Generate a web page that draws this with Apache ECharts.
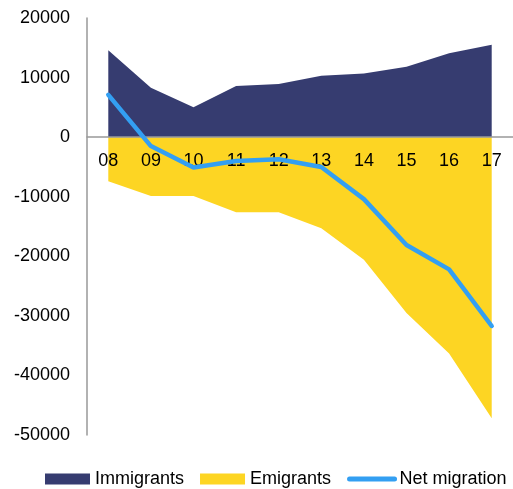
<!DOCTYPE html>
<html>
<head>
    <meta charset="UTF-8">
    <title>migration</title>
    <script src="https://cdn.jsdelivr.net/npm/echarts@6/dist/echarts.min.js"></script>
    <style>
        *{margin:0;padding:0}
        html, body{width:100%;height:100%;background:#fff}
        #main{width:513px;height:489px}
    </style>
</head>
<body>
    <div id="main"></div>
    <script type="text/javascript">
        var years = ['08', '09', '10', '11', '12', '13', '14', '15', '16', '17'];
        var immigrants = [14600, 8300, 5000, 8600, 8900, 10300, 10700, 11800, 14100, 15500];
        var emigrants = [-7400, -9900, -9900, -12600, -12600, -15300, -20600, -29500, -36300, -47200];
        var netMigration = [7100, -1500, -5100, -4000, -3700, -5000, -10400, -18100, -22200, -31700];

        var myChart = echarts.init(document.getElementById('main'));
        var font = 'Liberation Sans, Arial, sans-serif';
        // grid: top 18, height 417 -> zero line sits 2/7 of the way down
        var zeroOffset = -417 * 5 / 7;

        var option = {
            animation: false,
            grid: {left: 87, right: -8, top: 18, bottom: 54},
            legend: {
                top: 470,
                left: 45,
                width: 600,
                padding: 0,
                itemWidth: 45,
                itemHeight: 11,
                itemGap: 16,
                textStyle: {fontFamily: font, fontSize: 18, color: '#000'},
                data: [
                    {name: 'Immigrants', icon: 'rect'},
                    {name: 'Emigrants', icon: 'rect'},
                    {name: 'Net migration', itemStyle: {opacity: 0}, lineStyle: {width: 5, cap: 'round'}}
                ]
            },
            xAxis: {
                type: 'category',
                data: years,
                boundaryGap: true,
                position: 'bottom',
                offset: zeroOffset,
                z: 3,
                axisLine: {onZero: false, lineStyle: {color: '#999', width: 1.5}},
                axisTick: {show: false},
                axisLabel: {fontFamily: font, fontSize: 18, color: '#000', margin: 15},
                splitLine: {show: false}
            },
            yAxis: {
                type: 'value',
                min: -50000,
                max: 20000,
                interval: 10000,
                axisLine: {show: true, lineStyle: {color: '#999', width: 1.5}},
                axisTick: {show: false},
                axisLabel: {
                    fontFamily: font, fontSize: 18, color: '#000', margin: 17,
                    formatter: function (v) { return String(v); }
                },
                splitLine: {show: false}
            },
            series: [
                {
                    name: 'Immigrants',
                    type: 'line',
                    data: immigrants,
                    symbol: 'none',
                    lineStyle: {width: 0},
                    itemStyle: {color: '#363c70'},
                    areaStyle: {color: '#363c70', opacity: 1}
                },
                {
                    name: 'Emigrants',
                    type: 'line',
                    data: emigrants,
                    symbol: 'none',
                    lineStyle: {width: 0},
                    itemStyle: {color: '#fdd523'},
                    areaStyle: {color: '#fdd523', opacity: 1}
                },
                {
                    name: 'Net migration',
                    type: 'line',
                    data: netMigration,
                    symbol: 'none',
                    z: 5,
                    lineStyle: {width: 4.5, color: '#339ff2', cap: 'round'},
                    itemStyle: {color: '#339ff2'}
                }
            ]
        };
        myChart.setOption(option);
    </script>
</body>
</html>
